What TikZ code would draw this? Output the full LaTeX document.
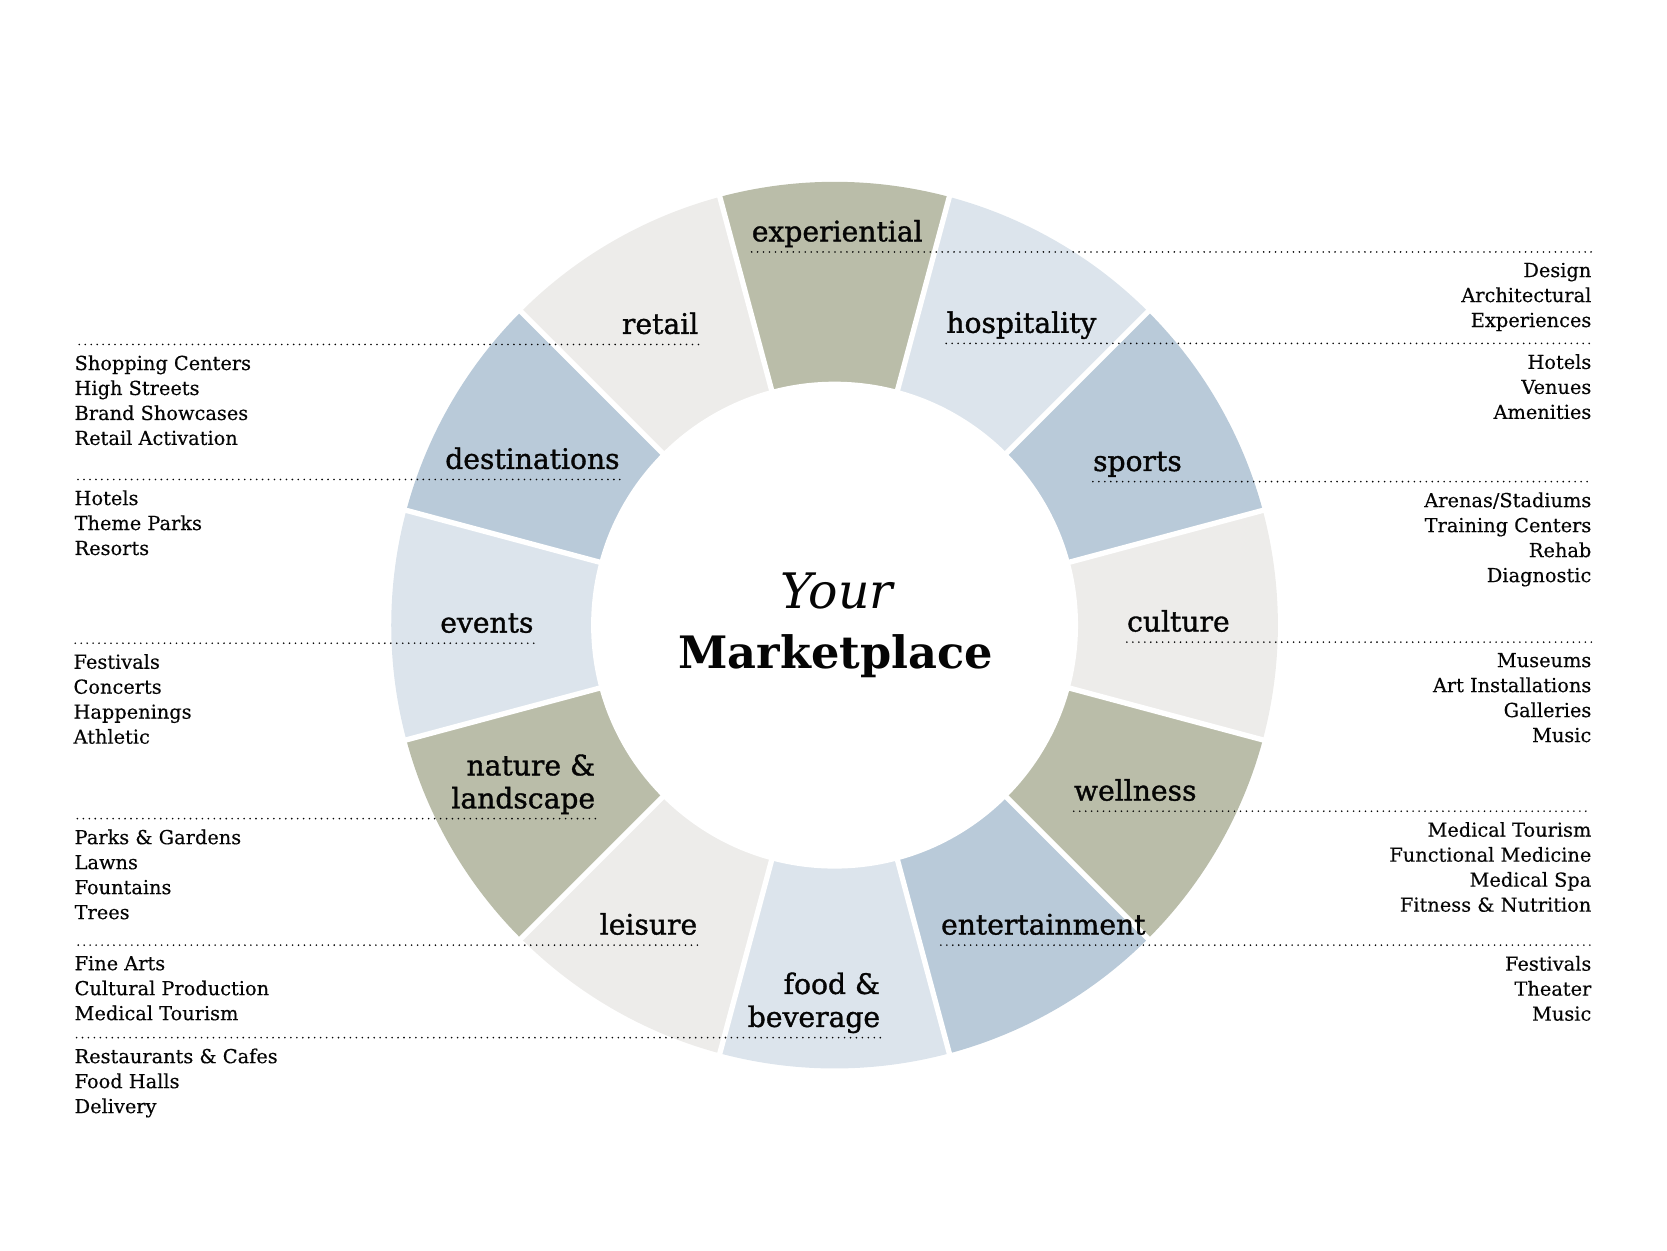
\documentclass[tikz,border=0pt]{standalone}
\usepackage{fontspec}
\setmainfont{DejaVu Serif}
\newfontfamily\labfont{DejaVu Serif}[FakeBold=1.2]
\newfontfamily\lstfont{DejaVu Serif}[FakeBold=0.3]
\usetikzlibrary{calc}
\definecolor{olv}{HTML}{BABDA9}
\definecolor{lbl}{HTML}{DCE4EC}
\definecolor{bgr}{HTML}{B9CAD9}
\definecolor{lgr}{HTML}{EDECEA}
\definecolor{ink}{HTML}{050505}
\begin{document}
\begin{tikzpicture}[x=1pt,y=1pt,
  lab/.style={inner sep=0pt, text=ink, font=\labfont\fontsize{26.5}{31}\selectfont, align=right},
  lst/.style={inner sep=0pt, text=ink, font=\lstfont\fontsize{18.2}{23.5}\selectfont},
  lstL/.style={lst, align=left, anchor=north west},
  lstR/.style={lst, align=right, anchor=north east},
  leader/.style={draw=ink, line width=1.7pt, line cap=round, dash pattern=on 0pt off 5.6pt},
  gap/.style={draw=white, line width=5pt}]
\useasboundingbox (0,0) rectangle (1568,-1176);
\coordinate (C) at (785,-588);
% ring segments
\foreach \a/\col in {90/olv, 60/lbl, 30/bgr, 0/lgr, -30/olv, -60/bgr, -90/lbl, -120/lgr, -150/olv, 180/lbl, 150/bgr, 120/lgr} {
  \fill[\col] (C) -- ($(C)+(\a-15:417pt)$) arc[start angle=\a-15, end angle=\a+15, radius=417pt] -- cycle;
}
\foreach \a in {15,45,...,345} \draw[gap] (C) -- ($(C)+(\a:430pt)$);
\fill[white] (C) circle[radius=229pt];
% centre
\node[inner sep=0pt, text=ink, font=\fontsize{46}{50}\selectfont\itshape] (your) at (787,-556) {Your};
\node[inner sep=0pt, text=ink, font=\fontsize{42}{50}\selectfont\bfseries] (mkt) at (786,-617) {Marketplace};
% right side
\coordinate (a1) at (707,-237);  \coordinate (b1) at (1497,-237);
\coordinate (a2) at (890,-323);  \coordinate (b2) at (1497,-323);
\coordinate (a3) at (1028,-453); \coordinate (b3) at (1497,-453);
\coordinate (a4) at (1060,-604); \coordinate (b4) at (1497,-604);
\coordinate (a5) at (1010,-763); \coordinate (b5) at (1497,-763);
\coordinate (a6) at (885,-889);  \coordinate (b6) at (1497,-889);
\draw[leader] (a1) -- (b1);
\draw[leader] (a2) -- (b2);
\draw[leader] (a3) -- (b3);
\draw[leader] (a4) -- (b4);
\draw[leader] (a5) -- (b5);
\draw[leader] (a6) -- (b6);
\node[lab, anchor=base west] (l1) at ([yshift=10pt]a1) {experiential};
\node[lab, anchor=base west] (l2) at ([yshift=10pt]a2) {hospitality};
\node[lab, anchor=base west] (l3) at ([yshift=10pt]a3) {sports};
\node[lab, anchor=base west] (l4) at ([yshift=10pt]a4) {culture};
\node[lab, anchor=base west] (l5) at ([yshift=10pt]a5) {wellness};
\node[lab, anchor=base west] (l6) at ([yshift=10pt]a6) {entertainment};
\node[lstR] (t1) at ([yshift=-10pt]b1) {Design\\Architectural\\Experiences};
\node[lstR] (t2) at ([yshift=-10pt]b2) {Hotels\\Venues\\Amenities};
\node[lstR] (t3) at ([yshift=-10pt]b3) {Arenas/Stadiums\\Training Centers\\Rehab\\Diagnostic};
\node[lstR] (t4) at ([yshift=-10pt]b4) {Museums\\Art Installations\\Galleries\\Music};
\node[lstR] (t5) at ([yshift=-10pt]b5) {Medical Tourism\\Functional Medicine\\Medical Spa\\Fitness \& Nutrition};
\node[lstR] (t6) at ([yshift=-10pt]b6) {Festivals\\Theater\\Music};
% left side
\coordinate (a7) at (657,-324);  \coordinate (b7) at (70,-324);
\coordinate (a8) at (583,-451);  \coordinate (b8) at (70,-451);
\coordinate (a9) at (502,-605);  \coordinate (b9) at (69,-605);
\coordinate (a10) at (560,-770); \coordinate (b10) at (70,-770);
\coordinate (a11) at (656,-889); \coordinate (b11) at (70,-889);
\coordinate (a12) at (828,-976); \coordinate (b12) at (70,-976);
\draw[leader] (a7) -- (b7);
\draw[leader] (a8) -- (b8);
\draw[leader] (a9) -- (b9);
\draw[leader] (a10) -- (b10);
\draw[leader] (a11) -- (b11);
\draw[leader] (a12) -- (b12);
\node[lab, anchor=base east] (l7) at ([yshift=10pt]a7) {retail};
\node[lab, anchor=base east] (l8) at ([yshift=10pt]a8) {destinations};
\node[lab, anchor=base east] (l9) at ([yshift=10pt]a9) {events};
\node[lab, anchor=south east] (l10) at ([yshift=4pt]a10) {nature \&\\landscape};
\node[lab, anchor=base east] (l11) at ([yshift=10pt]a11) {leisure};
\node[lab, anchor=south east] (l12) at ([yshift=4pt]a12) {food \&\\beverage};
\node[lstL] (t7) at ([yshift=-10pt]b7) {Shopping Centers\\High Streets\\Brand Showcases\\Retail Activation};
\node[lstL] (t8) at ([yshift=-10pt]b8) {Hotels\\Theme Parks\\Resorts};
\node[lstL] (t9) at ([yshift=-10pt]b9) {Festivals\\Concerts\\Happenings\\Athletic};
\node[lstL] (t10) at ([yshift=-10pt]b10) {Parks \& Gardens\\Lawns\\Fountains\\Trees};
\node[lstL] (t11) at ([yshift=-10pt]b11) {Fine Arts\\Cultural Production\\Medical Tourism};
\node[lstL] (t12) at ([yshift=-10pt]b12) {Restaurants \& Cafes\\Food Halls\\Delivery};
\end{tikzpicture}
\end{document}
